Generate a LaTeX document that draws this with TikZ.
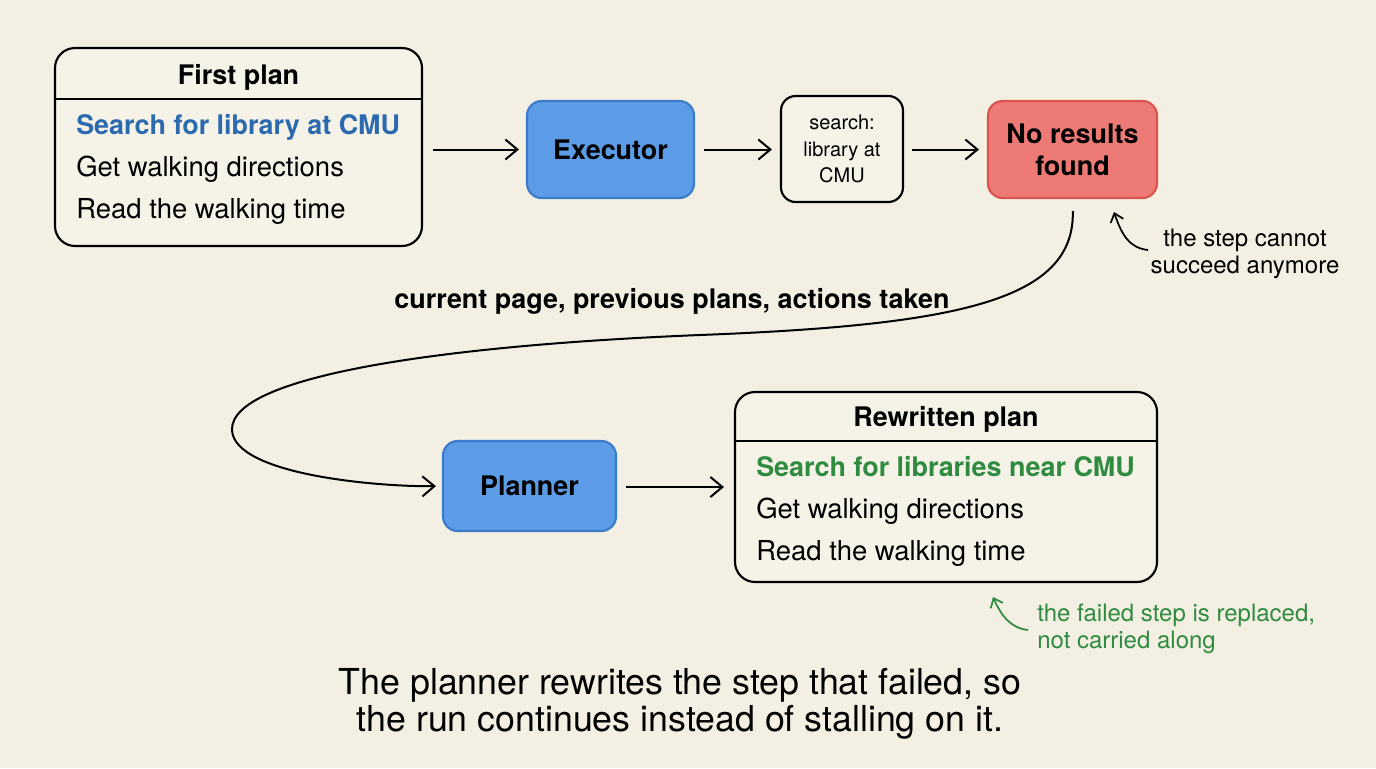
\documentclass[tikz,border=0pt]{standalone}
\usepackage{fontspec}
\setmainfont{TeX Gyre Heros}
\usetikzlibrary{arrows.meta}
\definecolor{bg}{HTML}{F3EFE2}
\definecolor{boxfill}{HTML}{F5F2E7}
\definecolor{bluefill}{HTML}{5C9CE6}
\definecolor{blueline}{HTML}{3B7BCB}
\definecolor{redfill}{HTML}{EE7A76}
\definecolor{redline}{HTML}{D9534F}
\definecolor{bluetext}{HTML}{2C6AB0}
\definecolor{greentext}{HTML}{2E8B3F}
\tikzset{
  planbox/.style={draw=black, line width=1.6pt, fill=boxfill, rounded corners=15pt, inner sep=0pt},
  bluebox/.style={draw=blueline, line width=1.6pt, fill=bluefill, rounded corners=11pt, inner sep=0pt, font=\bfseries\fontsize{20.2}{24}\selectfont},
  redbox/.style={draw=redline, line width=1.6pt, fill=redfill, rounded corners=11pt, inner sep=0pt, align=center, font=\bfseries\fontsize{20.2}{24}\selectfont},
  querybox/.style={draw=black, line width=1.6pt, fill=boxfill, rounded corners=11pt, inner sep=0pt, align=center, font=\fontsize{15}{20}\selectfont},
  arr/.style={line width=1.5pt, -{Straight Barb[length=9pt,width=15pt,line width=1.5pt]}},
  smallarr/.style={line width=1.3pt, -{Straight Barb[length=6pt,width=10pt,line width=1.3pt]}},
  titletext/.style={anchor=base, inner sep=0pt, font=\bfseries\fontsize{20.2}{24}\selectfont},
  itemtext/.style={anchor=base west, inner sep=0pt, font=\fontsize{20.6}{24}\selectfont},
  boldtext/.style={font=\bfseries\fontsize{20.2}{24}\selectfont},
  notetext/.style={align=center, inner sep=0pt, font=\fontsize{18}{20}\selectfont},
  divider/.style={line width=1.6pt}
}
\begin{document}
\begin{tikzpicture}[x=0.75pt,y=-0.75pt]
\fill[bg] (0,0) rectangle (1376,768);
\useasboundingbox (0,0) rectangle (1376,768);

% First plan
\node[planbox, minimum width=275.25pt, minimum height=148.5pt] (fp) at (238.5,147) {};
\coordinate (fpl) at (55,99);
\coordinate (fpr) at (422,99);
\draw[divider] (fpl) -- (fpr);
\node[titletext] (fpt) at (238.5,84) {First plan};
\node[itemtext, boldtext, text=bluetext] (fp1) at (76,134) {Search for library at CMU};
\node[itemtext] (fp2) at (76,176) {Get walking directions};
\node[itemtext] (fp3) at (76,218) {Read the walking time};

% Executor
\node[bluebox, minimum width=125.25pt, minimum height=72.75pt] (ex) at (610.5,149.5) {Executor};

% search query
\node[querybox, minimum width=91.5pt, minimum height=79.5pt] (sq) at (842,149) {search:\\library at\\CMU};

% No results
\node[redbox, minimum width=126.75pt, minimum height=72.75pt] (nr) at (1072.5,149.5) {No results\\found};

% Planner
\node[bluebox, minimum width=129.75pt, minimum height=67.5pt] (pl) at (529.5,486) {Planner};

% Rewritten plan
\node[planbox, minimum width=316.5pt, minimum height=142.5pt] (rp) at (946,487) {};
\coordinate (rpl) at (735,441);
\coordinate (rpr) at (1157,441);
\draw[divider] (rpl) -- (rpr);
\node[titletext] (rpt) at (946,426) {Rewritten plan};
\node[itemtext, boldtext, text=greentext] (rp1) at (756,476) {Search for libraries near CMU};
\node[itemtext] (rp2) at (756,518) {Get walking directions};
\node[itemtext] (rp3) at (756,560) {Read the walking time};

% straight arrows
\draw[arr, shorten <=7.5pt, shorten >=5.25pt] (fp.east |- ex.west) -- (ex.west);
\draw[arr, shorten <=6.75pt, shorten >=6pt] (ex.east) -- (sq.west |- ex.east);
\draw[arr, shorten <=6pt, shorten >=6pt] (sq.east |- nr.west) -- (nr.west);
\draw[arr, shorten <=6.75pt, shorten >=7.5pt] (pl.east |- rp.west) -- (rp.west);

% feedback curve
\coordinate (cmid) at (700,335);
\coordinate (cleft) at (232,430);
\draw[arr, shorten <=9pt, shorten >=4.5pt] (nr.south) .. controls (1075,300) and (960,325) .. (cmid)
  .. controls (450,345) and (230,375) .. (cleft)
  .. controls (234,475) and (380,487) .. (pl.west);
\node[boldtext] (lbl) at (672,301) {current page, previous plans, actions taken};

% annotation: step cannot succeed
\node[notetext] (n1) at (1245,254) {the step cannot\\succeed anymore};
\coordinate (n1s) at (1148,250);
\coordinate (n1e) at (1114,212);
\draw[smallarr] (n1s) .. controls (1130,248) and (1122,236) .. (n1e);

% annotation: failed step replaced
\node[notetext, text=greentext, align=left, anchor=west] (n2) at (1037,629) {the failed step is replaced,\\not carried along};
\coordinate (n2s) at (1028,630);
\coordinate (n2e) at (993,597);
\draw[smallarr, draw=greentext] (n2s) .. controls (1010,628) and (1001,615) .. (n2e);

% bottom caption
\node[align=center, font=\fontsize{26.8}{28}\selectfont] (cap) at (680,704) {The planner rewrites the step that failed, so\\the run continues instead of stalling on it.};
\end{tikzpicture}
\end{document}
